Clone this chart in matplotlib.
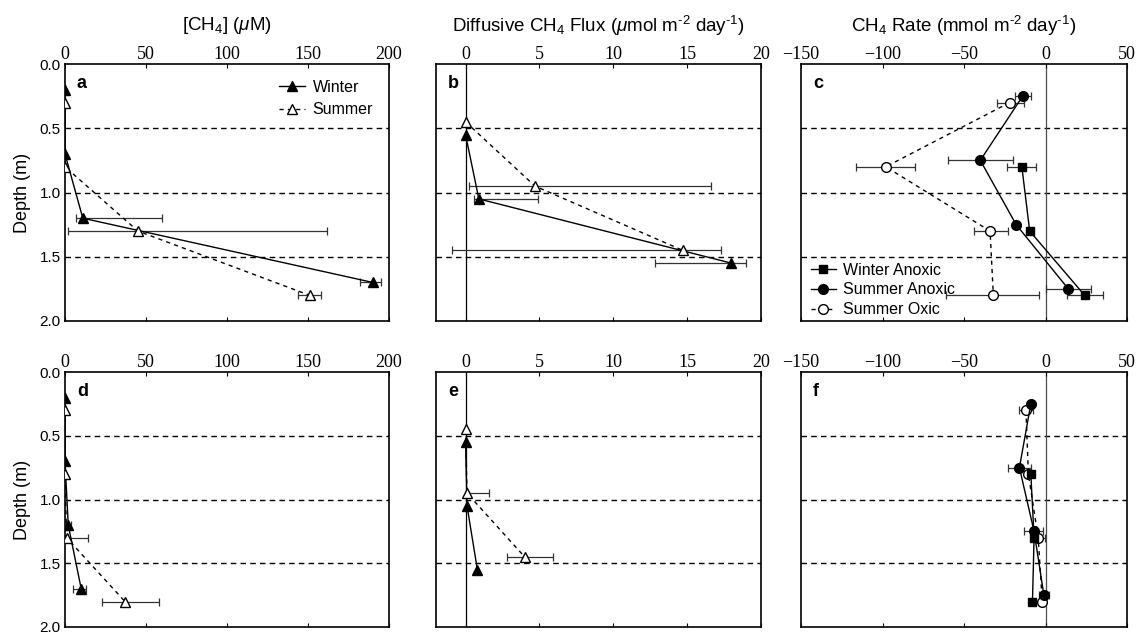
import numpy as np
import matplotlib
matplotlib.use("Agg")
import matplotlib.pyplot as plt
from matplotlib.lines import Line2D

nan = np.nan

# ---- data ----
# panels a / d : [CH4] (uM)
win_conc_depth = [0.2, 0.7, 1.2, 1.7]
sum_conc_depth = [0.3, 0.8, 1.3, 1.8]
a_win_conc = [0, 0, 11, 190]
a_win_lo = [nan, nan, 7, 182]
a_win_hi = [nan, nan, 60, 195]
a_sum_conc = [0, 0, 45, 151]
a_sum_lo = [nan, nan, 2, 144]
a_sum_hi = [nan, nan, 162, 158]
d_win_conc = [0, 0, 2, 10]
d_win_lo = [nan, nan, 0.5, 5]
d_win_hi = [nan, nan, 4, 13]
d_sum_conc = [0, 0, 1, 37]
d_sum_lo = [nan, nan, 1, 23]
d_sum_hi = [nan, nan, 14.5, 58]

# panels b / e : diffusive flux
win_flux_depth = [0.55, 1.05, 1.55]
sum_flux_depth = [0.45, 0.95, 1.45]
b_win_flux = [0, 0.9, 18.0]
b_win_lo = [nan, 0.6, 12.8]
b_win_hi = [nan, 4.9, 19.0]
b_sum_flux = [0, 4.7, 14.7]
b_sum_lo = [nan, 0.2, -0.9]
b_sum_hi = [nan, 16.6, 17.3]
e_win_flux = [0, 0.1, 0.8]
e_win_lo = [nan, nan, nan]
e_win_hi = [nan, nan, nan]
e_sum_flux = [0, 0.1, 4.0]
e_sum_lo = [nan, 0.1, 2.8]
e_sum_hi = [nan, 1.6, 5.9]

# panels c / f : CH4 rate
sa_depth = [0.25, 0.75, 1.25, 1.75]
so_depth = [0.3, 0.8, 1.3, 1.8]
wa_depth = [0.8, 1.3, 1.8]
c_sa_rate = [-14, -40, -18, 14]
c_sa_lo = [-19, -60, nan, 0]
c_sa_hi = [-9, -20, nan, 28]
c_so_rate = [-22, -98, -34, -32]
c_so_lo = [-30, -116, -44, -61]
c_so_hi = [-13, -80, -23, -4]
c_wa_rate = [-14.5, -9.7, 24]
c_wa_lo = [-23.5, nan, 13]
c_wa_hi = [-6, nan, 35]
f_sa_rate = [-9, -16, -7, -1]
f_sa_lo = [nan, -23, -13, -4]
f_sa_hi = [nan, -9, -1.5, 2]
f_so_rate = [-12, -10.5, -4.5, -2]
f_so_lo = [-16, nan, -8, nan]
f_so_hi = [-7.5, nan, -0.5, nan]
f_wa_rate = [-9, -7, -8]
f_wa_lo = [nan, nan, nan]
f_wa_hi = [nan, nan, nan]

depth_ticks = [0.0, 0.5, 1.0, 1.5, 2.0]

plt.rcParams["font.family"] = ["Liberation Sans", "DejaVu Sans"]
plt.rcParams["mathtext.fontset"] = "custom"
plt.rcParams["mathtext.rm"] = "Liberation Sans"
plt.rcParams["mathtext.it"] = "Liberation Sans:italic"

fig = plt.figure(figsize=(11.37, 6.32), dpi=100)

W, H = 1137.0, 632.0
cols = [(65, 389), (436, 761), (801, 1127)]
rows = [(64, 321), (372, 627)]


def make_ax(r, c):
    x0, x1 = cols[c]
    y0, y1 = rows[r]
    ax = fig.add_axes([x0 / W, 1 - y1 / H, (x1 - x0) / W, (y1 - y0) / H])
    return ax


def style_ax(ax, xlim, xticks, letter, left_labels):
    ax.set_xlim(xlim)
    ax.set_ylim(2.0, 0.0)
    ax.set_xticks(xticks)
    ax.set_yticks(depth_ticks)
    ax.xaxis.set_ticks_position("both")
    ax.tick_params(axis="x", direction="in", length=3, width=0.8,
                   labeltop=True, labelbottom=False, pad=1)
    ax.tick_params(axis="y", length=0, pad=3, labelsize=11,
                   labelleft=left_labels)
    for lab in ax.get_xticklabels():
        lab.set_fontfamily("Liberation Serif")
        lab.set_fontsize(13)
    if left_labels:
        ax.set_yticklabels(["%.1f" % t for t in depth_ticks])
    for sp in ax.spines.values():
        sp.set_linewidth(1.2)
    for d in [0.5, 1.0, 1.5]:
        ax.axhline(d, color="black", lw=1, ls=(0, (4, 3)), zorder=1)
    ax.text(0.037, 0.925, letter, transform=ax.transAxes, fontsize=13,
            fontweight="bold", va="center", ha="left")


def series(ax, x, y, lo, hi, marker, filled, dashed, ms=7):
    x = np.array(x, dtype=float)
    y = np.array(y, dtype=float)
    lo = np.array(lo, dtype=float)
    hi = np.array(hi, dtype=float)
    m = ~np.isnan(lo)
    if m.any():
        ax.errorbar(x[m], y[m], xerr=[x[m] - lo[m], hi[m] - x[m]], fmt="none",
                    ecolor="0.2", elinewidth=0.9, capsize=3, capthick=0.9,
                    zorder=2)
    ax.plot(x, y, color="black", lw=1, ls=(0, (3, 3)) if dashed else "-",
            marker=marker, ms=ms, mfc="black" if filled else "white",
            mec="black", mew=1, zorder=3)


# ---- concentration column ----
for r, (wc, wl, wh, sc, sl, sh, letter) in enumerate([
        (a_win_conc, a_win_lo, a_win_hi, a_sum_conc, a_sum_lo, a_sum_hi, "a"),
        (d_win_conc, d_win_lo, d_win_hi, d_sum_conc, d_sum_lo, d_sum_hi, "d")]):
    ax = make_ax(r, 0)
    style_ax(ax, (0, 200), [0, 50, 100, 150, 200], letter, True)
    series(ax, wc, win_conc_depth, wl, wh, "^", True, False)
    series(ax, sc, sum_conc_depth, sl, sh, "^", False, True)
    ax.set_ylabel("Depth (m)", fontsize=13, labelpad=6)
    if r == 0:
        handles = [Line2D([], [], color="black", lw=1, marker="^", ms=7,
                          mfc="black", mec="black"),
                   Line2D([], [], color="black", lw=1, ls=(0, (3, 3)),
                          marker="^", ms=7, mfc="white", mec="black")]
        ax.legend(handles, ["Winter", "Summer"], loc="upper right",
                  frameon=False, fontsize=11.5, handlelength=1.6,
                  handletextpad=0.5, borderaxespad=0.6, labelspacing=0.45)

# ---- flux column ----
for r, (wf, wl, wh, sf, sl, sh, letter) in enumerate([
        (b_win_flux, b_win_lo, b_win_hi, b_sum_flux, b_sum_lo, b_sum_hi, "b"),
        (e_win_flux, e_win_lo, e_win_hi, e_sum_flux, e_sum_lo, e_sum_hi, "e")]):
    ax = make_ax(r, 1)
    style_ax(ax, (-2, 20), [0, 5, 10, 15, 20], letter, False)
    ax.axvline(0, color="black", lw=0.9, zorder=1)
    series(ax, wf, win_flux_depth, wl, wh, "^", True, False)
    series(ax, sf, sum_flux_depth, sl, sh, "^", False, True)

# ---- rate column ----
for r, (sa, sal, sah, so, sol, soh, wa, wal, wah, letter) in enumerate([
        (c_sa_rate, c_sa_lo, c_sa_hi, c_so_rate, c_so_lo, c_so_hi,
         c_wa_rate, c_wa_lo, c_wa_hi, "c"),
        (f_sa_rate, f_sa_lo, f_sa_hi, f_so_rate, f_so_lo, f_so_hi,
         f_wa_rate, f_wa_lo, f_wa_hi, "f")]):
    ax = make_ax(r, 2)
    style_ax(ax, (-150, 50), [-150, -100, -50, 0, 50], letter, False)
    ax.axvline(0, color="0.3", lw=0.9, zorder=1)
    series(ax, so, so_depth, sol, soh, "o", False, True, ms=7)
    series(ax, sa, sa_depth, sal, sah, "o", True, False, ms=7)
    series(ax, wa, wa_depth, wal, wah, "s", True, False, ms=6)
    if r == 0:
        handles = [Line2D([], [], color="black", lw=1, marker="s", ms=6,
                          mfc="black", mec="black"),
                   Line2D([], [], color="black", lw=1, marker="o", ms=7,
                          mfc="black", mec="black"),
                   Line2D([], [], color="black", lw=1, ls=(0, (3, 3)),
                          marker="o", ms=7, mfc="white", mec="black")]
        ax.legend(handles, ["Winter Anoxic", "Summer Anoxic", "Summer Oxic"],
                  loc="lower left", frameon=False, fontsize=11.5,
                  handlelength=1.6, handletextpad=0.4, borderaxespad=0.0,
                  labelspacing=0.3, bbox_to_anchor=(0.01, -0.01))

# ---- column titles ----
fig.text(227 / W, 1 - 26 / H, r"[CH$_4$] ($\mathit{\mu}$M)", ha="center",
         va="center", fontsize=13.5)
fig.text(598 / W, 1 - 26 / H,
         r"Diffusive CH$_4$ Flux ($\mathit{\mu}$mol m$^{\text{-2}}$ day$^{\text{-1}}$)",
         ha="center", va="center", fontsize=13.5)
fig.text(964 / W, 1 - 26 / H,
         r"CH$_4$ Rate (mmol m$^{\text{-2}}$ day$^{\text{-1}}$)",
         ha="center", va="center", fontsize=13.5)

fig.savefig("out.png", dpi=100)
